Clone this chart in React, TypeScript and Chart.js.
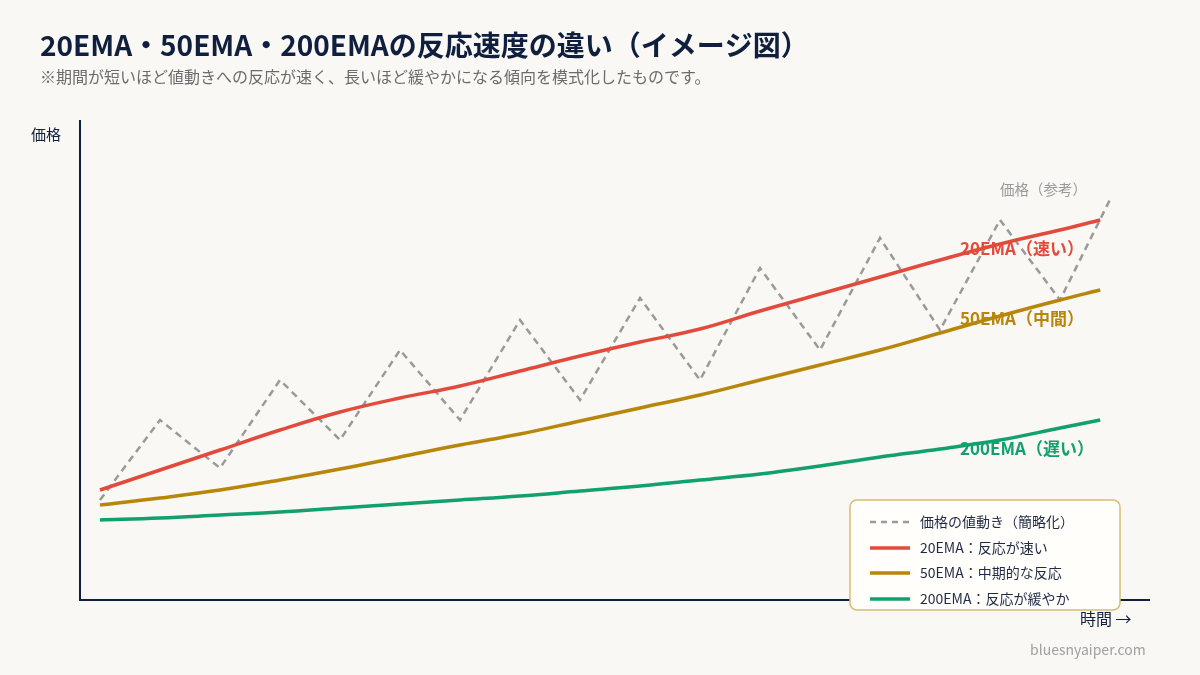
import { useEffect, useRef } from "react";
import { Chart, registerables } from "chart.js";
Chart.register(...registerables);

const FONT = "'Noto Sans CJK JP', 'Noto Sans', sans-serif";

// time steps (schematic)
const priceTimes = [0, 1, 2, 3, 4, 5, 6, 7, 8, 9, 10, 11, 12, 13, 14, 15, 16, 16.83];
const priceValues = [100, 180, 132, 220, 160, 250, 180, 280, 200, 302, 220, 332, 250, 362, 270, 380, 300, 400];

const emaTimes = [0, 1, 2, 3, 4, 5, 6, 7, 8, 9, 10, 11, 12, 13, 14, 15, 16, 16.67];
const ema20 = [110, 130, 150, 170, 188, 202, 214, 229, 244, 258, 271, 289, 306, 323, 340, 356, 370, 380];
const ema50 = [95, 102, 110, 120, 131, 143, 155, 166, 179, 192, 205, 220, 235, 250, 267, 284, 300, 310];
const ema200 = [80, 82, 85, 88, 92, 96, 100, 104, 109, 114, 120, 126, 134, 143, 151, 160, 172, 180];

const seriesLabels = ["価格の値動き（簡略化）", "20EMA：反応が速い", "50EMA：中期的な反応", "200EMA：反応が緩やか"];
const endLabels = ["価格（参考）", "20EMA（速い）", "50EMA（中間）", "200EMA（遅い）"];

const TITLE = "20EMA・50EMA・200EMAの反応速度の違い（イメージ図）";
const SUBTITLE = "※期間が短いほど値動きへの反応が速く、長いほど緩やかになる傾向を模式化したものです。";

const GRAY = "#9a9a9a";
const RED = "#e24a3b";
const GOLD = "#b8860b";
const GREEN = "#12a06e";
const NAVY = "#0f1f3d";

const toPts = (xs: number[], ys: number[]) => xs.map((x, i) => ({ x, y: ys[i] }));

const overlay = {
  id: "overlay",
  beforeDatasetsDraw(chart: any) {
    const ctx = chart.ctx as CanvasRenderingContext2D;
    ctx.save();
    ctx.textBaseline = "middle";
    ctx.textAlign = "left";
    ctx.fillStyle = GRAY;
    ctx.font = `14.5px ${FONT}`;
    ctx.fillText(endLabels[0], 1000, 189);
    ctx.font = `bold 17px ${FONT}`;
    ctx.fillStyle = RED;
    ctx.fillText(endLabels[1], 960, 249);
    ctx.fillStyle = GOLD;
    ctx.fillText(endLabels[2], 960, 319);
    ctx.fillStyle = GREEN;
    ctx.fillText(endLabels[3], 960, 449);
    ctx.restore();
  },
  afterDraw(chart: any) {
    const ctx = chart.ctx as CanvasRenderingContext2D;
    const a = chart.chartArea;
    ctx.save();
    // axes
    ctx.strokeStyle = NAVY;
    ctx.lineWidth = 2;
    ctx.beginPath();
    ctx.moveTo(a.left, a.top);
    ctx.lineTo(a.left, a.bottom);
    ctx.lineTo(a.right, a.bottom);
    ctx.stroke();

    ctx.textBaseline = "middle";
    // title
    ctx.fillStyle = NAVY;
    ctx.font = `bold 28px ${FONT}`;
    ctx.textAlign = "left";
    ctx.fillText(TITLE, 40, 45);
    ctx.fillStyle = "#6b6b6b";
    ctx.font = `16px ${FONT}`;
    ctx.fillText(SUBTITLE, 40, 77);

    // axis labels
    ctx.fillStyle = NAVY;
    ctx.font = `15px ${FONT}`;
    ctx.fillText("価格", 31, 134);
    ctx.font = `16px ${FONT}`;
    ctx.fillText("時間 →", 1080, 619);
    ctx.fillStyle = "#a0a0a0";
    ctx.font = `14px ${FONT}`;
    ctx.fillText("bluesnyaiper.com", 1030, 650);

    // legend box
    const bx = 850, by = 500, bw = 270, bh = 110, r = 7;
    ctx.beginPath();
    ctx.moveTo(bx + r, by);
    ctx.arcTo(bx + bw, by, bx + bw, by + bh, r);
    ctx.arcTo(bx + bw, by + bh, bx, by + bh, r);
    ctx.arcTo(bx, by + bh, bx, by, r);
    ctx.arcTo(bx, by, bx + bw, by, r);
    ctx.closePath();
    ctx.fillStyle = "#fffefb";
    ctx.fill();
    ctx.strokeStyle = "#d6bd72";
    ctx.lineWidth = 1.5;
    ctx.stroke();

    const colors = [GRAY, RED, GOLD, GREEN];
    const rows = [522, 548, 573, 599];
    ctx.font = `14px ${FONT}`;
    rows.forEach((y, i) => {
      ctx.beginPath();
      ctx.strokeStyle = colors[i];
      ctx.lineWidth = i === 0 ? 2.5 : 3.5;
      ctx.setLineDash(i === 0 ? [6, 5] : []);
      ctx.moveTo(870, y);
      ctx.lineTo(910, y);
      ctx.stroke();
      ctx.setLineDash([]);
      ctx.fillStyle = "#1f2a44";
      ctx.fillText(seriesLabels[i], 920, y);
    });
    ctx.restore();
  },
};

export default function App() {
  const ref = useRef<HTMLCanvasElement>(null);
  useEffect(() => {
    const canvas = ref.current!;
    const chart = new Chart(canvas, {
      type: "line",
      data: {
        datasets: [
          {
            label: seriesLabels[0],
            data: toPts(priceTimes, priceValues),
            borderColor: GRAY,
            borderWidth: 2.5,
            borderDash: [7, 5],
            pointRadius: 0,
            tension: 0,
            order: 4,
          },
          {
            label: seriesLabels[3],
            data: toPts(emaTimes, ema200),
            borderColor: GREEN,
            borderWidth: 3.5,
            pointRadius: 0,
            tension: 0.4,
            order: 3,
          },
          {
            label: seriesLabels[2],
            data: toPts(emaTimes, ema50),
            borderColor: GOLD,
            borderWidth: 3.5,
            pointRadius: 0,
            tension: 0.4,
            order: 2,
          },
          {
            label: seriesLabels[1],
            data: toPts(emaTimes, ema20),
            borderColor: RED,
            borderWidth: 3.5,
            pointRadius: 0,
            tension: 0.4,
            order: 1,
          },
        ] as any,
      },
      options: {
        responsive: false,
        animation: false,
        devicePixelRatio: 1,
        layout: { padding: { left: 80, right: 50, top: 120, bottom: 75 } },
        scales: {
          x: { type: "linear", min: -1 / 3, max: 17.5, display: false },
          y: { type: "linear", min: 0, max: 480, display: false },
        },
        plugins: { legend: { display: false }, tooltip: { enabled: false } },
      },
      plugins: [overlay],
    });
    return () => chart.destroy();
  }, []);
  return (
    <div style={{ position: "fixed", left: 0, top: 0, width: 1200, height: 675, background: "#f9f8f5" }}>
      <canvas ref={ref} width={1200} height={675} style={{ display: "block", width: 1200, height: 675 }} />
    </div>
  );
}
